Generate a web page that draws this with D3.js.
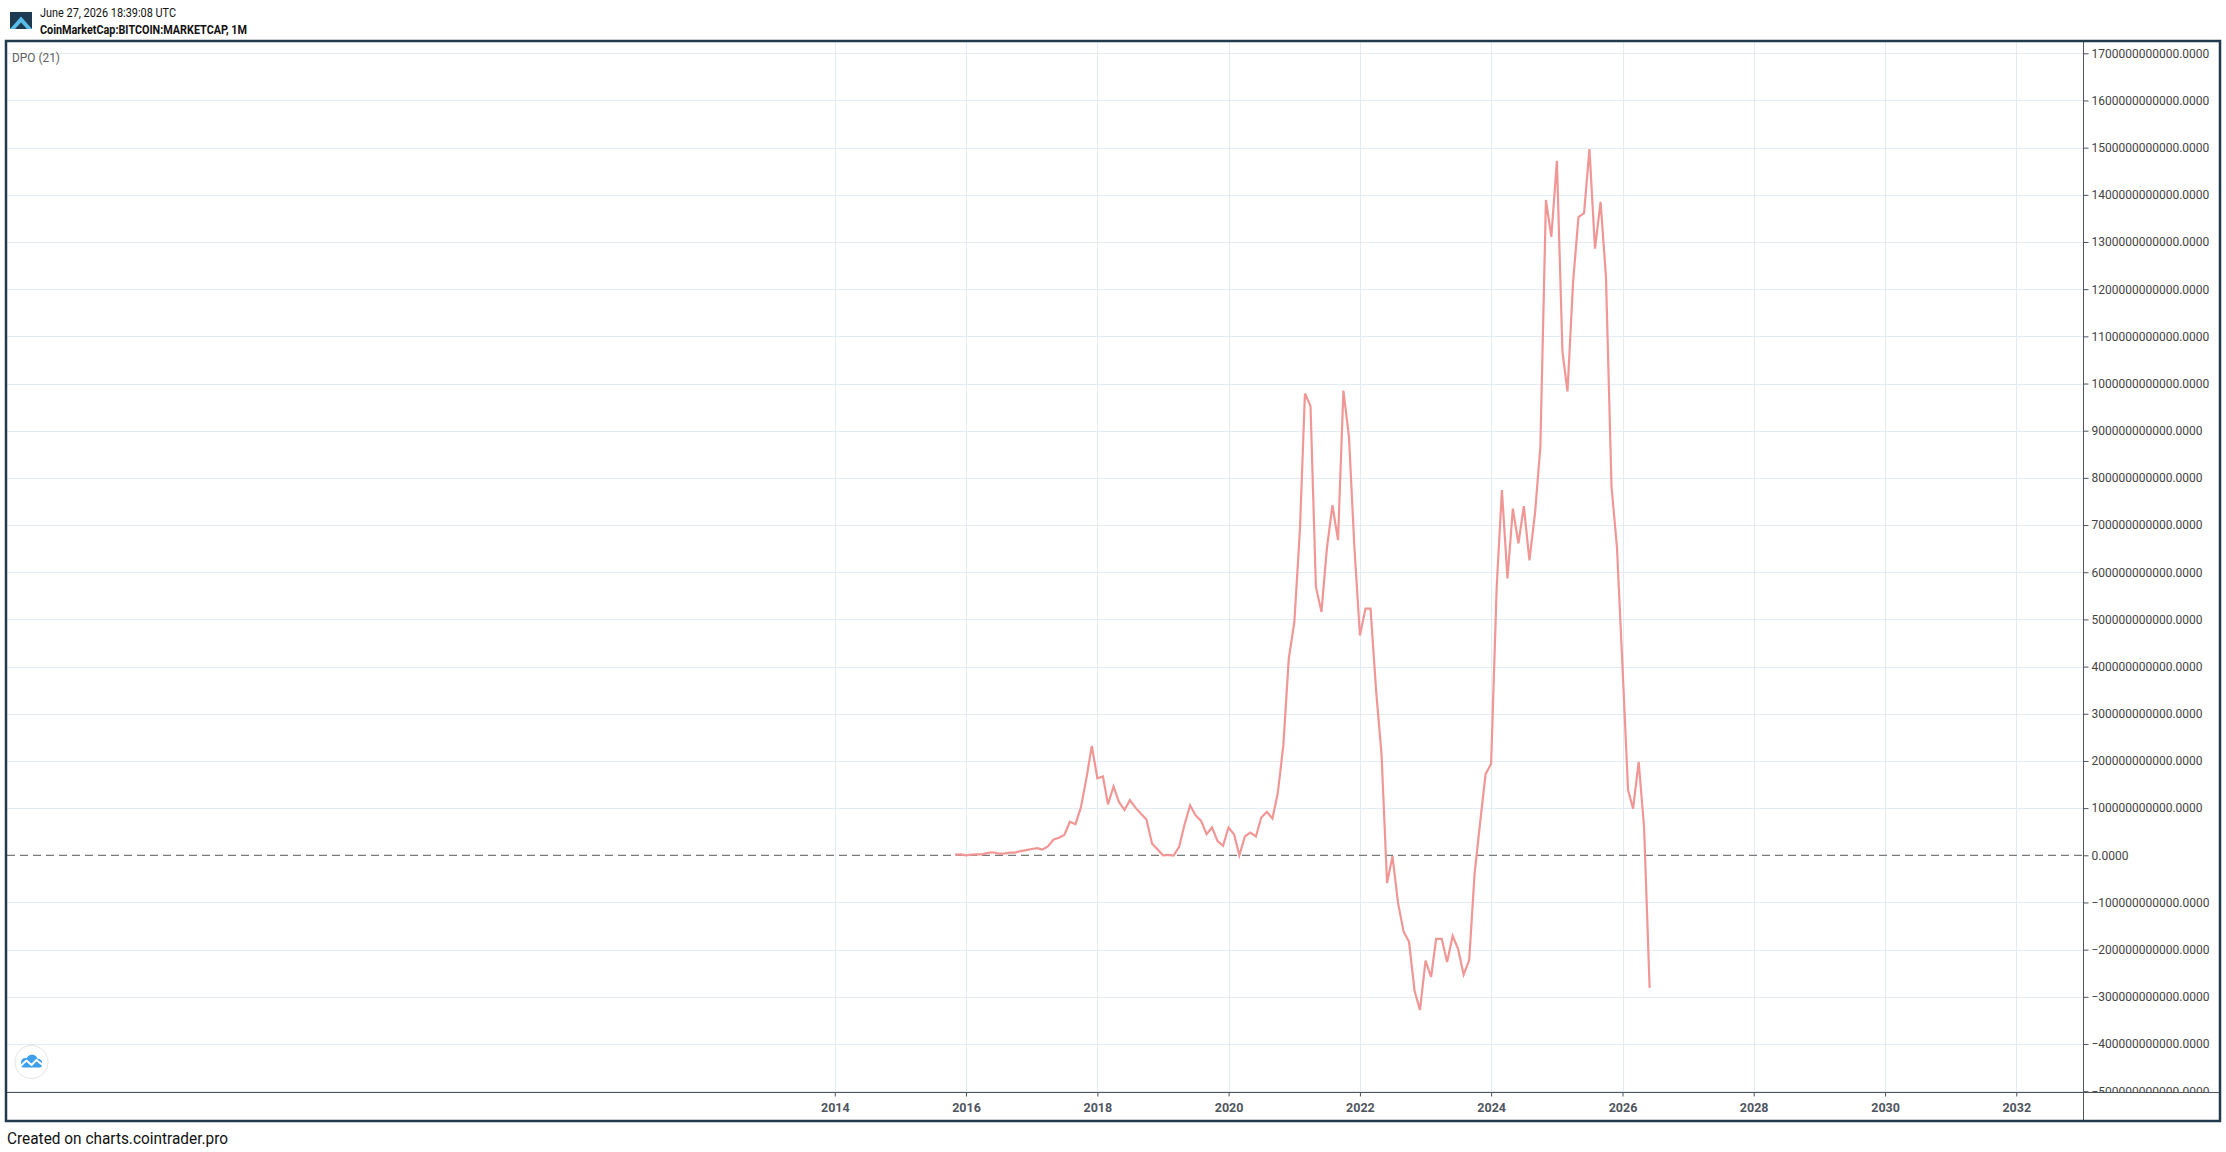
<!DOCTYPE html>
<html>
<head>
<meta charset="utf-8">
<script src="https://cdn.jsdelivr.net/npm/d3@7"></script>
<style>
  html, body { margin: 0; padding: 0; background: #ffffff; }
  svg { display: block; font-family: Roboto, "Noto Sans", sans-serif; }
</style>
</head>
<body>
<svg id="chart" width="2226" height="1152"></svg>
<script>
// ---------------- DATA ----------------
const headerDate = "June 27, 2026 18:39:08 UTC";
const headerSymbol = "CoinMarketCap:BITCOIN:MARKETCAP, 1M";
const indicatorLabel = "DPO (21)";
const footerText = "Created on charts.cointrader.pro";

// first monthly bar of the DPO series
const firstMonth = [2015, 10]; // year, month index (Nov 2015)
// DPO (21) values, in billions USD, one per month from Nov 2015 to Jun 2026
const dpoValuesB = [
  1.4, 2,                                                        // 2015 Nov-Dec
  0, 1.4, 2, 2, 5, 6.4, 3.5, 3.5, 5.7, 5.7, 9, 11,               // 2016
  13.4, 15, 12, 19, 33, 37, 43, 71, 66, 101, 163, 232,           // 2017
  163, 167, 108, 146, 113, 96, 117, 101, 88, 76, 25, 13,         // 2018
  0, 1, -0.5, 18, 65, 106, 85, 73, 45, 59, 30, 20,               // 2019
  59, 44, 0, 40, 48, 40, 80, 92, 78, 132, 234, 417,              // 2020
  494, 689, 979, 952, 569, 516, 650, 742, 668, 985, 887, 654,    // 2021
  466, 523, 523, 349, 215, -59, -2, -101, -162, -183, -287, -328, // 2022
  -223, -258, -177, -177, -226, -171, -198, -253, -222, -39, 70, 172, // 2023
  194, 569, 774, 587, 735, 661, 740, 625, 724, 866, 1389, 1311,  // 2024
  1472, 1067, 983, 1215, 1353, 1361, 1497, 1286, 1385, 1226, 781, 654, // 2025
  400, 138, 99, 198, 60, -281                                    // 2026 Jan-Jun
];

// tick labels
const xTickYears = [2014, 2016, 2018, 2020, 2022, 2024, 2026, 2028, 2030, 2032];
const yTickValuesB = [-500, -400, -300, -200, -100, 0, 100, 200, 300, 400, 500, 600, 700, 800,
                      900, 1000, 1100, 1200, 1300, 1400, 1500, 1600, 1700];

// ---------------- LAYOUT ----------------
const W = 2226, H = 1152;
const plot = { left: 7, right: 2083, top: 42, bottom: 1092 };
const frame = { x: 6, y: 41, w: 2214, h: 1080 };

const svg = d3.select("#chart");

const x = d3.scaleUtc()
  .domain([new Date(Date.UTC(2016, 0, 1)), new Date(Date.UTC(2026, 0, 1))])
  .range([966, 1622.5]);

const y = d3.scaleLinear()
  .domain([0, 1700e9])
  .range([855.3, 53.3]);

const series = dpoValuesB.map((v, i) => ({
  date: d3.utcMonth.offset(new Date(Date.UTC(firstMonth[0], firstMonth[1], 1)), i),
  value: v * 1e9
}));

// background
svg.append("rect").attr("x", 0).attr("y", 0).attr("width", W).attr("height", H).attr("fill", "#ffffff");

// clips
const defs = svg.append("defs");
defs.append("clipPath").attr("id", "plotClip")
  .append("rect")
  .attr("x", plot.left).attr("y", plot.top)
  .attr("width", plot.right - plot.left).attr("height", plot.bottom - plot.top);
defs.append("clipPath").attr("id", "yAxisClip")
  .append("rect")
  .attr("x", plot.right).attr("y", plot.top)
  .attr("width", 140).attr("height", plot.bottom - plot.top);

const gridColor = "#e2ecf2";
const grid = svg.append("g").attr("clip-path", "url(#plotClip)");

// horizontal gridlines
grid.selectAll("line.hg")
  .data(yTickValuesB.filter(d => d !== 0))
  .join("line")
  .attr("class", "hg")
  .attr("x1", plot.left).attr("x2", plot.right)
  .attr("y1", d => Math.round(y(d * 1e9)) + 0.5)
  .attr("y2", d => Math.round(y(d * 1e9)) + 0.5)
  .attr("stroke", gridColor).attr("stroke-width", 1);

// vertical gridlines
grid.selectAll("line.vg")
  .data(xTickYears)
  .join("line")
  .attr("class", "vg")
  .attr("x1", d => Math.round(x(new Date(Date.UTC(d, 0, 1)))) + 0.5)
  .attr("x2", d => Math.round(x(new Date(Date.UTC(d, 0, 1)))) + 0.5)
  .attr("y1", plot.top).attr("y2", plot.bottom)
  .attr("stroke", gridColor).attr("stroke-width", 1);

// zero dashed line
grid.append("line")
  .attr("x1", plot.left).attr("x2", plot.right)
  .attr("y1", y(0)).attr("y2", y(0))
  .attr("stroke", "#7a7a7a").attr("stroke-width", 1.3)
  .attr("stroke-dasharray", "8,5");

// DPO line
const line = d3.line()
  .x(d => x(d.date))
  .y(d => y(d.value));

svg.append("g").attr("clip-path", "url(#plotClip)")
  .append("path")
  .datum(series)
  .attr("d", line)
  .attr("fill", "none")
  .attr("stroke", "#f09796")
  .attr("stroke-width", 2.2)
  .attr("stroke-linejoin", "miter");

// ---------------- AXES ----------------
const axisColor = "#4e555e";

// y axis (right)
const yAxis = d3.axisRight(y)
  .tickValues(yTickValuesB.map(v => v * 1e9))
  .tickFormat(d3.format(".4f"))
  .tickSize(5)
  .tickPadding(3);

const gy = svg.append("g")
  .attr("clip-path", "url(#yAxisClip)")
  .append("g")
  .attr("transform", `translate(${plot.right + 0.5},0)`)
  .call(yAxis);
gy.select(".domain").remove();
gy.selectAll(".tick line").attr("stroke", axisColor);
gy.selectAll(".tick text")
  .attr("fill", "#444444")
  .style("font-family", "Roboto, sans-serif")
  .style("font-size", "12px");

// x axis (bottom)
const xAxis = d3.axisBottom(x)
  .tickValues(xTickYears.map(yr => new Date(Date.UTC(yr, 0, 1))))
  .tickFormat(d3.utcFormat("%Y"))
  .tickSize(4)
  .tickPadding(7);

const gx = svg.append("g")
  .attr("transform", `translate(0,${plot.bottom + 0.5})`)
  .call(xAxis);
gx.select(".domain").remove();
gx.selectAll(".tick line").attr("stroke", axisColor);
gx.selectAll(".tick text")
  .attr("fill", "#4f5560")
  .style("font-family", "Roboto, sans-serif")
  .style("font-weight", "bold")
  .style("font-size", "12.5px");

// axis lines
svg.append("line")
  .attr("x1", frame.x).attr("x2", frame.x + frame.w)
  .attr("y1", plot.bottom + 0.5).attr("y2", plot.bottom + 0.5)
  .attr("stroke", axisColor).attr("stroke-width", 1);
svg.append("line")
  .attr("x1", plot.right + 0.5).attr("x2", plot.right + 0.5)
  .attr("y1", frame.y).attr("y2", frame.y + frame.h)
  .attr("stroke", axisColor).attr("stroke-width", 1);

// frame
svg.append("rect")
  .attr("x", frame.x).attr("y", frame.y)
  .attr("width", frame.w).attr("height", frame.h)
  .attr("fill", "none")
  .attr("stroke", "#213b4d")
  .attr("stroke-width", 2.5);

// ---------------- TEXTS ----------------
// logo
const logo = svg.append("g");
logo.append("rect").attr("x", 10).attr("y", 12).attr("width", 22).attr("height", 17).attr("fill", "#1d3a52");
logo.append("polygon")
  .attr("points", "10,29 21,16.5 32,29 27,29 21,22.5 15,29")
  .attr("fill", "#58bde8");

svg.append("text")
  .attr("x", 40).attr("y", 17.3)
  .attr("textLength", 136).attr("lengthAdjust", "spacingAndGlyphs")
  .style("font-size", "12px").attr("fill", "#111")
  .text(headerDate);
svg.append("text")
  .attr("x", 40).attr("y", 34)
  .attr("textLength", 207).attr("lengthAdjust", "spacingAndGlyphs")
  .style("font-size", "12px").style("font-weight", "bold").attr("fill", "#111")
  .text(headerSymbol);

svg.append("text")
  .attr("x", 12).attr("y", 62)
  .attr("textLength", 48).attr("lengthAdjust", "spacingAndGlyphs")
  .style("font-size", "13.5px").attr("fill", "#606060")
  .text(indicatorLabel);

svg.append("text")
  .attr("x", 7).attr("y", 1144)
  .attr("textLength", 221).attr("lengthAdjust", "spacingAndGlyphs")
  .style("font-size", "17px").attr("fill", "#111")
  .text(footerText);

// bottom-left watermark icon
const icon = svg.append("g").attr("transform", "translate(31.5,1062)");
icon.append("circle").attr("r", 16.5).attr("fill", "#ffffff").attr("stroke", "#e4e4e4").attr("stroke-width", 1);
const cloud = icon.append("g").attr("fill", "#3ea0ec");
cloud.append("circle").attr("cx", -6).attr("cy", 0.5).attr("r", 4.5);
cloud.append("circle").attr("cx", 0.5).attr("cy", -2).attr("r", 5.5);
cloud.append("circle").attr("cx", 6.5).attr("cy", 1).attr("r", 4.2);
cloud.append("rect").attr("x", -10.5).attr("y", 0.5).attr("width", 21).attr("height", 5).attr("rx", 2.5);
icon.append("polyline")
  .attr("points", "-11,4 -5,-1.5 0,3 5,-2 11,3")
  .attr("fill", "none").attr("stroke", "#ffffff").attr("stroke-width", 2)
  .attr("stroke-linejoin", "round");
</script>
</body>
</html>
